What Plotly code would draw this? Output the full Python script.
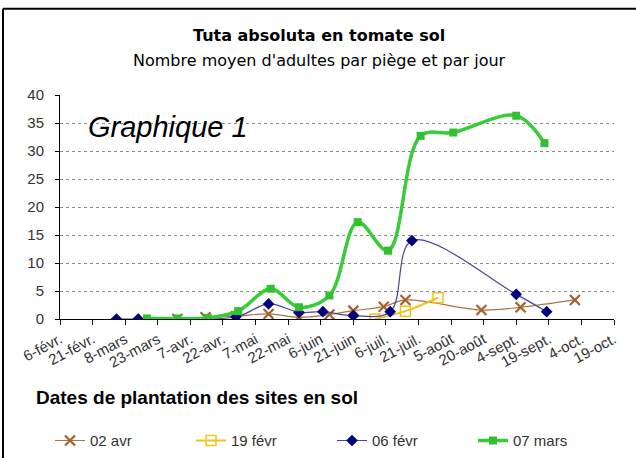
import plotly.graph_objects as go

# ---- data ----
tick_dates = ["2010-02-06", "2010-02-21", "2010-03-08", "2010-03-23", "2010-04-07", "2010-04-22",
              "2010-05-07", "2010-05-22", "2010-06-06", "2010-06-21", "2010-07-06", "2010-07-21",
              "2010-08-05", "2010-08-20", "2010-09-04", "2010-09-19", "2010-10-04", "2010-10-19"]
tick_labels = ["6-févr.", "21-févr.", "8-mars", "23-mars", "7-avr.", "22-avr.", "7-mai", "22-mai",
               "6-juin", "21-juin", "6-juil.", "21-juil.", "5-août", "20-août", "4-sept.",
               "19-sept.", "4-oct.", "19-oct."]

avr02_dates = ["2010-04-01", "2010-04-14", "2010-04-28", "2010-05-13", "2010-05-27", "2010-06-10",
               "2010-06-21", "2010-07-05", "2010-07-15", "2010-08-19", "2010-09-06", "2010-10-01"]
avr02_vals = [0, 0.3, 0.5, 0.9, 0.3, 0.8, 1.5, 2.2, 3.4, 1.6, 2.1, 3.4]

fevr19_dates = ["2010-07-01", "2010-07-15", "2010-07-30"]
fevr19_vals = [0, 1.4, 3.8]

fevr06_dates = ["2010-03-04", "2010-03-14", "2010-04-28", "2010-05-13", "2010-05-27", "2010-06-07",
                "2010-06-21", "2010-07-08", "2010-07-18", "2010-09-04", "2010-09-18"]
fevr06_vals = [0, 0, 0.4, 2.7, 1.2, 1.3, 0.6, 1.3, 14.0, 4.4, 1.3]

mars07_dates = ["2010-03-18", "2010-04-01", "2010-04-15", "2010-04-29", "2010-05-14", "2010-05-27",
                "2010-06-10", "2010-06-23", "2010-07-07", "2010-07-22", "2010-08-06", "2010-09-04",
                "2010-09-17"]
mars07_vals = [0.1, 0.1, 0.2, 1.4, 5.4, 2.1, 4.2, 17.3, 12.2, 32.7, 33.3, 36.3, 31.4]

# ---- figure ----
fig = go.Figure()
fig.add_trace(go.Scatter(
    x=avr02_dates, y=avr02_vals, name="02 avr", mode="lines+markers",
    line=dict(color="#A57448", width=1.2, shape="spline", smoothing=1),
    marker=dict(symbol="x-thin", size=10, line=dict(color="#A8602C", width=2.2), color="#A8602C")))
fig.add_trace(go.Scatter(
    x=fevr19_dates, y=fevr19_vals, name="19 févr", mode="lines+markers",
    line=dict(color="#F2C21C", width=2, shape="spline", smoothing=1),
    marker=dict(symbol="square-open", size=10, color="#F2C21C", line=dict(width=1.5))))
fig.add_trace(go.Scatter(
    x=fevr06_dates, y=fevr06_vals, name="06 févr", mode="lines+markers",
    line=dict(color="#46469A", width=1.2, shape="spline", smoothing=1),
    marker=dict(symbol="diamond", size=9, color="#000080")))
fig.add_trace(go.Scatter(
    x=mars07_dates, y=mars07_vals, name="07 mars", mode="lines+markers",
    line=dict(color="#38CC38", width=3.5, shape="spline", smoothing=1),
    marker=dict(symbol="square", size=8, color="#30C030")))

plot_h = 458 - 94.5 - 139


def py(pix):
    return (319 - pix) / plot_h


def px(pix):
    return (pix - 60) / 554


fig.update_layout(
    width=636, height=458,
    margin=dict(l=60, r=22, t=94.5, b=139, autoexpand=False),
    paper_bgcolor="white", plot_bgcolor="white",
    font=dict(family="Liberation Sans Narrow, Liberation Sans, Arial", size=14, color="#333333"),
    showlegend=True,
    legend=dict(orientation="h", x=px(50), y=py(441), xanchor="left", yanchor="middle",
                font=dict(size=15, color="#333333"), itemwidth=30,
                entrywidth=96, entrywidthmode="pixels", traceorder="normal"),
    xaxis=dict(
        type="date", range=[tick_dates[0], tick_dates[-1]], automargin=False,
        tickmode="array", tickvals=tick_dates, ticktext=tick_labels,
        tickangle=-28, ticks="outside", ticklen=5, tickcolor="black",
        showline=True, linecolor="black", linewidth=1, showgrid=False, zeroline=False,
        tickfont=dict(size=15, color="#333333")),
    yaxis=dict(
        range=[0, 40], dtick=5, ticks="outside", ticklen=4, tickcolor="black", automargin=False,
        showline=True, linecolor="black", linewidth=1, ticklabelstandoff=8,
        showgrid=True, gridcolor="#8a8a8a", griddash="dot", gridwidth=1, zeroline=False,
        tickfont=dict(family="Liberation Sans, Arial", size=15, color="#333333")),
    annotations=[
        dict(text="<b>Tuta absoluta en tomate sol</b>", xref="paper", yref="paper",
             x=px(319), y=py(35), xanchor="center", yanchor="middle", showarrow=False,
             font=dict(family="DejaVu Sans", size=16, color="black")),
        dict(text="Nombre moyen d'adultes par piège et par jour", xref="paper", yref="paper",
             x=px(319), y=py(60), xanchor="center", yanchor="middle", showarrow=False,
             font=dict(family="DejaVu Sans", size=16, color="black")),
        dict(text="<i>Graphique 1</i>", xref="paper", yref="paper",
             x=px(86), y=py(127), xanchor="left", yanchor="middle", showarrow=False,
             font=dict(family="Liberation Sans, Arial", size=29, color="black")),
        dict(text="<b>Dates de plantation des sites en sol</b>", xref="paper", yref="paper",
             x=px(34), y=py(398), xanchor="left", yanchor="middle", showarrow=False,
             font=dict(family="Liberation Sans, Arial", size=19, color="black")),
    ],
    shapes=[
        dict(type="line", xref="paper", yref="paper", x0=px(3), x1=px(636), y0=py(8), y1=py(8),
             line=dict(color="black", width=2)),
        dict(type="line", xref="paper", yref="paper", x0=px(3), x1=px(3), y0=py(8), y1=py(460),
             line=dict(color="black", width=2)),
    ],
)

fig.write_html("out.html", config={"displayModeBar": False},
               post_script="document.body.style.margin='0';")
